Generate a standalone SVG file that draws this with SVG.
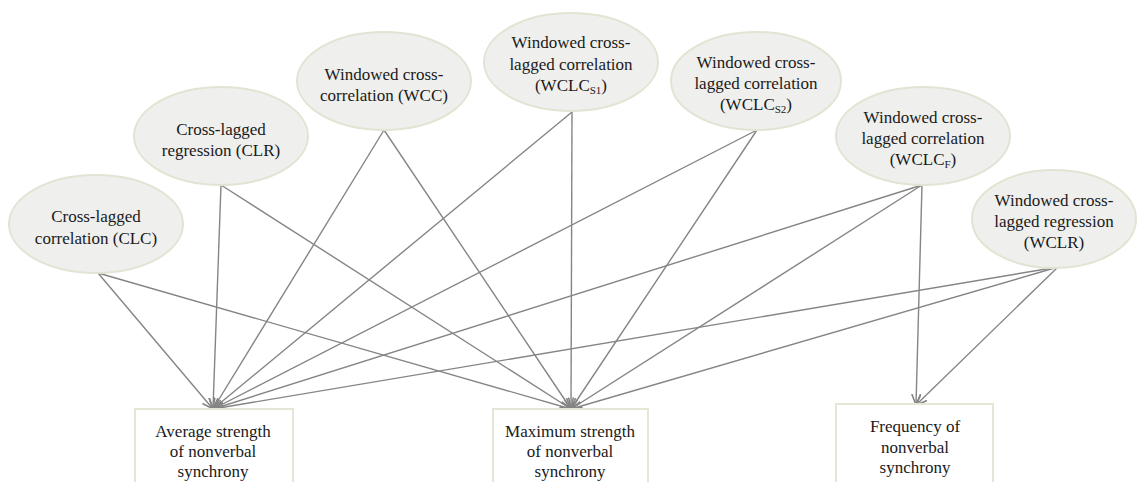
<svg xmlns="http://www.w3.org/2000/svg" width="1137" height="482" viewBox="0 0 1137 482">
<style>
.el{fill:#efefed;stroke:#e2e4d3;stroke-width:2}
.bx{fill:#ffffff;stroke:#e4e6d6;stroke-width:2}
.t{font-family:'Liberation Serif','DejaVu Serif',serif;font-size:17px;fill:#1a1a1a;text-anchor:middle}
.sub{font-size:11px}
.c{stroke:#858585;stroke-width:1.4;fill:none;marker-end:url(#ah)}
</style>
<defs>
<marker id="ah" markerUnits="userSpaceOnUse" markerWidth="14" markerHeight="12" refX="11" refY="5" orient="auto">
<path d="M0,0.5 L11,5 L0,9.5" fill="none" stroke="#858585" stroke-width="1.6"/>
</marker>
</defs>
<rect width="1137" height="482" fill="#ffffff"/>
<g id="connectors">
<line class="c" x1="98" y1="273" x2="213" y2="409"/>
<line class="c" x1="98" y1="273" x2="571" y2="409"/>
<line class="c" x1="221" y1="185" x2="213" y2="409"/>
<line class="c" x1="221" y1="185" x2="571" y2="409"/>
<line class="c" x1="384" y1="130" x2="213" y2="409"/>
<line class="c" x1="384" y1="130" x2="571" y2="409"/>
<line class="c" x1="572" y1="112" x2="213" y2="409"/>
<line class="c" x1="572" y1="112" x2="571" y2="409"/>
<line class="c" x1="757" y1="130" x2="213" y2="409"/>
<line class="c" x1="757" y1="130" x2="571" y2="409"/>
<line class="c" x1="922" y1="185" x2="213" y2="409"/>
<line class="c" x1="922" y1="185" x2="571" y2="409"/>
<line class="c" x1="922" y1="185" x2="916" y2="405"/>
<line class="c" x1="1058" y1="267" x2="213" y2="409"/>
<line class="c" x1="1058" y1="267" x2="571" y2="409"/>
<line class="c" x1="1058" y1="267" x2="916" y2="405"/>
</g>
<g id="clc">
<ellipse class="el" cx="96" cy="224" rx="87" ry="49"/>
<text class="t" x="96" y="222">Cross-lagged</text>
<text class="t" x="96" y="244">correlation (CLC)</text>
</g>
<g id="clr">
<ellipse class="el" cx="221" cy="136" rx="87" ry="49"/>
<text class="t" x="221" y="135">Cross-lagged</text>
<text class="t" x="221" y="156">regression (CLR)</text>
</g>
<g id="wcc">
<ellipse class="el" cx="384" cy="81" rx="87" ry="49"/>
<text class="t" x="384" y="80">Windowed cross-</text>
<text class="t" x="384" y="101">correlation (WCC)</text>
</g>
<g id="wclc-s1">
<ellipse class="el" cx="571" cy="62" rx="87" ry="49"/>
<text class="t" x="571" y="48">Windowed cross-</text>
<text class="t" x="571" y="70">lagged correlation</text>
<text class="t" x="571" y="91">(WCLC<tspan class="sub" dy="3">S1</tspan><tspan dy="-3">)</tspan></text>
</g>
<g id="wclc-s2">
<ellipse class="el" cx="756" cy="81" rx="85" ry="49"/>
<text class="t" x="756" y="68">Windowed cross-</text>
<text class="t" x="756" y="89">lagged correlation</text>
<text class="t" x="756" y="110">(WCLC<tspan class="sub" dy="3">S2</tspan><tspan dy="-3">)</tspan></text>
</g>
<g id="wclc-f">
<ellipse class="el" cx="923" cy="136" rx="87" ry="49"/>
<text class="t" x="923" y="123">Windowed cross-</text>
<text class="t" x="923" y="144">lagged correlation</text>
<text class="t" x="923" y="165">(WCLC<tspan class="sub" dy="3">F</tspan><tspan dy="-3">)</tspan></text>
</g>
<g id="wclr">
<ellipse class="el" cx="1054" cy="219" rx="82" ry="49"/>
<text class="t" x="1054" y="206">Windowed cross-</text>
<text class="t" x="1054" y="227">lagged regression</text>
<text class="t" x="1054" y="248">(WCLR)</text>
</g>
<g id="avg">
<rect class="bx" x="135" y="409" width="158" height="80"/>
<text class="t" x="213" y="437">Average strength</text>
<text class="t" x="213" y="457">of nonverbal</text>
<text class="t" x="213" y="477">synchrony</text>
</g>
<g id="max">
<rect class="bx" x="493" y="409" width="155" height="80"/>
<text class="t" x="570" y="437">Maximum strength</text>
<text class="t" x="570" y="457">of nonverbal</text>
<text class="t" x="570" y="477">synchrony</text>
</g>
<g id="freq">
<rect class="bx" x="836" y="404" width="157" height="85"/>
<text class="t" x="915" y="432">Frequency of</text>
<text class="t" x="915" y="453">nonverbal</text>
<text class="t" x="915" y="473">synchrony</text>
</g>
</svg>
